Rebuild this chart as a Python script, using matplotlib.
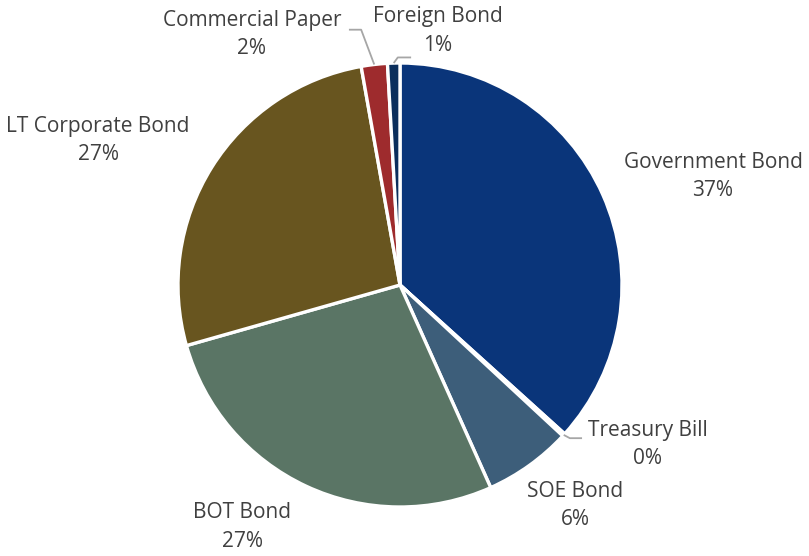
import numpy as np
import matplotlib
matplotlib.use("Agg")
import matplotlib.pyplot as plt

# ---------------------
# data
# ---------------------
categories = ["Government Bond", "Treasury Bill", "SOE Bond", "BOT Bond",
              "LT Corporate Bond", "Commercial Paper", "Foreign Bond"]
shares = [36.7, 0.2, 6.4, 27.3, 26.6, 1.9, 0.9]
colors = ["#0a357a", "#9db3c8", "#3d5e7a", "#5a7565", "#68551f", "#9e2b2d", "#0b2e5c"]

# label centres (in pie radii) and which labels get a leader line
label_pos = {
    "Government Bond": (1.41, 0.49),
    "Treasury Bill": (1.117, -0.718),
    "SOE Bond": (0.788, -0.995),
    "BOT Bond": (-0.71, -1.09),
    "LT Corporate Bond": (-1.36, 0.65),
    "Commercial Paper": (-0.667, 1.128),
    "Foreign Bond": (0.17, 1.144),
}
leaders = {"Treasury Bill", "Commercial Paper", "Foreign Bond"}

plt.rcParams['font.family'] = ['Open Sans', 'DejaVu Sans']
TEXT = "#404040"

fig = plt.figure(figsize=(8.09, 5.56), dpi=100)
ax = fig.add_axes([0, 0, 1, 1])

wedges, _ = ax.pie(shares, colors=colors, startangle=90, counterclock=False,
                   radius=1.0, wedgeprops=dict(edgecolor="white", linewidth=2.4))

for w, name, val in zip(wedges, categories, shares):
    mid = np.deg2rad((w.theta1 + w.theta2) / 2)
    lx, ly = label_pos[name]
    ax.text(lx, ly, f"{name}\n{val:.0f}%", ha="center", va="center",
            fontsize=15, color=TEXT, linespacing=1.45)
    if name in leaders:
        ex, ey = np.cos(mid), np.sin(mid)
        if name == "Commercial Paper":
            pts = [(ex, ey), (-0.175, 1.150), (-0.23, 1.150)]
        elif name == "Foreign Bond":
            pts = [(ex, ey), (-0.01, 1.025), (0.05, 1.025)]
        else:
            pts = [(ex, ey), (0.765, -0.69), (0.82, -0.69)]
        xs, ys = zip(*pts)
        ax.plot(xs, ys, color="#a6a6a6", lw=1.3, solid_capstyle="butt")

# axes limits put the pie center at (400, 285) px with a 222 px radius
ax.set_xlim(-400 / 222, 409 / 222)
ax.set_ylim(-271 / 222, 285 / 222)
ax.set_aspect("equal")
ax.axis("off")

fig.savefig("out.png", dpi=100)
